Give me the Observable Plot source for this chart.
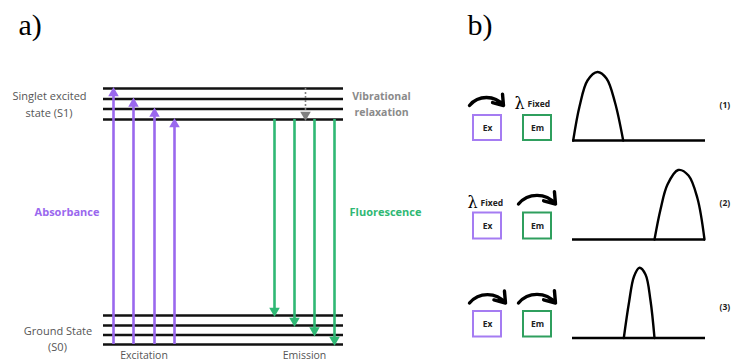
<!DOCTYPE html>
<html><head><meta charset="utf-8">
<script src="https://cdn.jsdelivr.net/npm/d3@7"></script>
<script src="https://cdn.jsdelivr.net/npm/@observablehq/plot@0.6"></script>
<style>body{margin:0;background:#fff;}</style>
</head><body><div id="chart"></div>
<script>
// ---------- Panel a: Jablonski diagram ----------
const s1Levels = [88, 98.5, 108.5, 119];
const s0Levels = [315, 325, 334.5, 344];
const levelSpan = [103, 343];
const excitationX = [113, 133, 154, 174];
const emissionX = [274, 294, 314, 334];
const relaxationX = [305];

const sideLabels = ["Singlet excited", "state (S1)", "Ground State", "(S0)"];
const sideLabelX = [49, 48.5, 57.5, 57];
const sideLabelY = [96, 113, 330.5, 346.5];
const bottomLabels = ["Excitation", "Emission"];
const bottomLabelX = [143.5, 304];
const relaxLabels = ["Vibrational", "relaxation"];
const relaxLabelY = [96, 112];
const processLabels = ["Absorbance", "Fluorescence"];
const processLabelX = [66.5, 385];

// ---------- Panel b: excitation / emission scans ----------
const baselineY = [140, 239, 337.5];
const baselineSpan = [572, 705];
const boxTop = [115, 212.5, 311];
const boxBottom = [140, 238.5, 336.5];
const exBox = [473, 501];
const emBox = [523, 551];
const arrowStartX = [469, 518, 469, 518];
const arrowEndX = [503, 555, 505, 555];
const arrowY = [105, 203.5, 302.5, 302.5];
const fixedX = [519, 472];
const fixedY = [103, 202.5];
const scanLabels = ["(1)", "(2)", "(3)"];
const scanLabelY = [105, 203, 306.5];

const peak1X = [572.7, 579, 587, 597, 606, 614.5, 622.7];
const peak1Y = [140, 106, 80, 71.5, 78, 102, 140];
const peak2X = [654, 660, 667, 677.7, 688, 697, 704];
const peak2Y = [239, 209, 184, 169.5, 175, 198, 239];
const peak3X = [623.3, 628.5, 633.5, 639, 645, 650, 654];
const peak3Y = [337.5, 302, 276, 267.3, 274, 300, 337.5];

const panelTags = ["a)", "b)"];
const panelTagX = [18, 467];

const purple = "#9a68ee";
const green = "#2fb874";
const gray = "#808080";
const labelGray = "#555";
const sans = "'Open Sans', sans-serif";

const idx = (arr) => arr.map((_, i) => i);

const chart = Plot.plot({
  width: 733,
  height: 363,
  margin: 0,
  x: {domain: [0, 733], range: [0, 733], axis: null},
  y: {domain: [0, 363], range: [0, 363], axis: null},
  style: {background: "#fff"},
  marks: [
    // energy levels
    Plot.ruleY(s1Levels.concat(s0Levels), {y: d => d, x1: levelSpan[0], x2: levelSpan[1], stroke: "#111", strokeWidth: 2.6}),
    // excitation arrows
    Plot.ruleX(excitationX, {x: d => d, y1: s0Levels[3], y2: (d, i) => s1Levels[i] + 5, stroke: purple, strokeWidth: 2.6}),
    Plot.dot(excitationX, {x: d => d, y: (d, i) => s1Levels[i] + 4.6, symbol: "triangle", r: 3.9, fill: purple, stroke: "none"}),
    // emission arrows
    Plot.ruleX(emissionX, {x: d => d, y1: s1Levels[3], y2: (d, i) => s0Levels[i] - 5, stroke: green, strokeWidth: 2.6}),
    Plot.dot(emissionX, {x: d => d, y: (d, i) => s0Levels[i] - 4.6, symbol: "triangle", rotate: 180, r: 3.9, fill: green, stroke: "none"}),
    // vibrational relaxation
    Plot.ruleX(relaxationX, {x: d => d, y1: s1Levels[0], y2: s1Levels[3] - 6, stroke: gray, strokeWidth: 1.6, strokeDasharray: "2,2"}),
    Plot.dot(relaxationX, {x: d => d, y: s1Levels[3] - 4.6, symbol: "triangle", rotate: 180, r: 3.9, fill: gray, stroke: "none"}),
    // panel a labels
    Plot.text(idx(sideLabels), {x: i => sideLabelX[i], y: i => sideLabelY[i], text: i => sideLabels[i], fontSize: 11, fill: labelGray, fontFamily: sans}),
    Plot.text(idx(bottomLabels), {x: i => bottomLabelX[i], y: 355.5, text: i => bottomLabels[i], fontSize: 10.5, fill: labelGray, fontFamily: sans}),
    Plot.text(idx(relaxLabels), {x: 381, y: i => relaxLabelY[i], text: i => relaxLabels[i], fontSize: 10.5, fontWeight: "bold", fill: "#8a8a8a", fontFamily: sans}),
    Plot.text(idx(processLabels), {x: i => processLabelX[i], y: 212, text: i => processLabels[i], fontSize: 11, fontWeight: "bold", fill: (i) => i === 0 ? purple : green, fontFamily: sans}),
    // panel tags
    Plot.text(idx(panelTags), {x: i => panelTagX[i], y: 25, text: i => panelTags[i], textAnchor: "start", fontSize: 30, fill: "#000", fontFamily: "'Liberation Serif', serif"}),
    // panel b baselines and peaks
    Plot.ruleY(baselineY, {y: d => d, x1: baselineSpan[0], x2: baselineSpan[1], stroke: "#000", strokeWidth: 2.6}),
    Plot.line(peak1X, {x: d => d, y: (d, i) => peak1Y[i], curve: "catmull-rom", stroke: "#000", strokeWidth: 2.4}),
    Plot.line(peak2X, {x: d => d, y: (d, i) => peak2Y[i], curve: "catmull-rom", stroke: "#000", strokeWidth: 2.4}),
    Plot.line(peak3X, {x: d => d, y: (d, i) => peak3Y[i], curve: "catmull-rom", stroke: "#000", strokeWidth: 2.4}),
    // Ex / Em boxes
    Plot.rect(boxTop, {x1: exBox[0], x2: exBox[1], y1: d => d, y2: (d, i) => boxBottom[i], fill: "none", stroke: "#a57cf2", strokeWidth: 2}),
    Plot.rect(boxTop, {x1: emBox[0], x2: emBox[1], y1: d => d, y2: (d, i) => boxBottom[i], fill: "none", stroke: "#2f9f5e", strokeWidth: 2}),
    Plot.text(boxTop, {x: (exBox[0] + exBox[1]) / 2, y: (d, i) => (d + boxBottom[i]) / 2, text: () => "Ex", fontSize: 8.5, fontWeight: "bold", fill: "#222", fontFamily: sans}),
    Plot.text(boxTop, {x: (emBox[0] + emBox[1]) / 2, y: (d, i) => (d + boxBottom[i]) / 2, text: () => "Em", fontSize: 8.5, fontWeight: "bold", fill: "#222", fontFamily: sans}),
    // scan arrows
    Plot.arrow(arrowStartX, {x1: d => d, x2: (d, i) => arrowEndX[i], y1: (d, i) => arrowY[i], y2: (d, i) => arrowY[i], bend: 50, stroke: "#000", strokeWidth: 3.4, headLength: 9, headAngle: 70}),
    // λ Fixed
    Plot.text(fixedX, {x: d => d, y: (d, i) => fixedY[i], text: () => "λ", fontSize: 16, fill: "#000", fontFamily: "'DejaVu Serif', serif"}),
    Plot.text(fixedX, {x: d => d + 8, y: (d, i) => fixedY[i] + 0.5, text: () => "Fixed", textAnchor: "start", fontSize: 8.5, fontWeight: "bold", fill: "#222", fontFamily: sans}),
    // scan numbers
    Plot.text(scanLabels, {x: 719, y: (d, i) => scanLabelY[i], text: d => d, textAnchor: "start", fontSize: 8.5, fontWeight: "bold", fill: "#222", fontFamily: sans})
  ]
});
document.getElementById("chart").appendChild(chart);
</script>
</body></html>
